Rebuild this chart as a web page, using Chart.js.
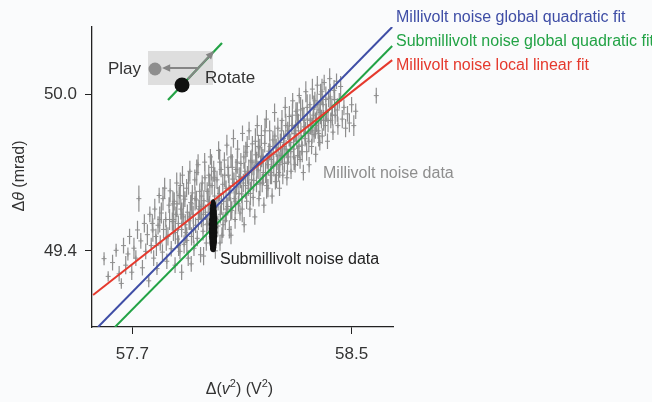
<!DOCTYPE html>
<html>
<head>
<meta charset="utf-8">
<script src="https://cdn.jsdelivr.net/npm/chart.js@4.4.0/dist/chart.umd.min.js"></script>
<style>
html, body { margin:0; padding:0; background:#fafbfc; }
#wrap { width:652px; height:402px; }
</style>
</head>
<body>
<div id="wrap"><canvas id="c" width="652" height="402"></canvas></div>
<script>
// Δθ vs Δ(v²): millivolt / submillivolt noise data with three fits.
const FONT = '"Liberation Sans", Arial, sans-serif';
Chart.defaults.font.family = FONT;
Chart.defaults.color = "#333";
const C = {blue:"#3f4ea6", green:"#23a346", red:"#e5392d", grey:"#8e8e8e", black:"#111"};

const xRange = [57.553, 58.651];
const yRange = [49.108, 50.258];
const xTicks = [57.7, 58.5];
const yTicks = [49.4, 50.0];

// fit lines (end points, data units)
const blueFitX = [57.575, 58.648],  blueFitY = [49.108, 50.258];
const greenFitX = [57.637, 58.648], greenFitY = [49.108, 50.185];
const redFitX = [57.557, 58.648],   redFitY = [49.231, 50.131];
const fitLabels = ["Millivolt noise global quadratic fit", "Submillivolt noise global quadratic fit", "Millivolt noise local linear fit"];

// millivolt noise data: [Δ(v²), Δθ, error]
const millivolt = [
  [57.597,49.370,0.025],[57.612,49.302,0.02],[57.628,49.355,0.03],[57.641,49.402,0.025],[57.652,49.312,0.03],
  [57.660,49.275,0.02],[57.668,49.420,0.03],[57.676,49.345,0.035],[57.684,49.388,0.025],[57.690,49.455,0.03],
  [57.698,49.318,0.03],[57.706,49.410,0.04],[57.713,49.372,0.03],[57.719,49.480,0.035],[57.724,49.600,0.05],
  [57.731,49.438,0.03],[57.737,49.335,0.03],[57.744,49.505,0.035],[57.749,49.398,0.03],[57.755,49.462,0.04],
  [57.760,49.285,0.025],[57.764,49.540,0.03],
  [57.769,49.420,0.03],[57.773,49.505,0.035],[57.778,49.372,0.03],[57.782,49.560,0.04],[57.786,49.455,0.03],
  [57.790,49.332,0.025],[57.794,49.498,0.035],[57.798,49.612,0.03],[57.802,49.430,0.03],[57.806,49.545,0.04],
  [57.810,49.395,0.03],[57.814,49.482,0.035],[57.818,49.640,0.04],[57.822,49.520,0.03],[57.826,49.360,0.03],
  [57.830,49.455,0.035],[57.834,49.575,0.03],[57.838,49.630,0.045],[57.842,49.408,0.03],[57.846,49.512,0.035],
  [57.850,49.468,0.03],
  [57.775,49.480,0.045],[57.788,49.420,0.04],[57.800,49.520,0.05],[57.812,49.600,0.045],[57.824,49.450,0.05],
  [57.836,49.520,0.04],[57.848,49.580,0.05],
  [57.853,49.590,0.035],[57.856,49.345,0.03],[57.859,49.540,0.03],[57.862,49.660,0.04],[57.865,49.445,0.035],
  [57.868,49.505,0.03],[57.871,49.612,0.035],[57.874,49.398,0.03],[57.877,49.560,0.04],[57.880,49.482,0.03],
  [57.880,49.318,0.03],[57.883,49.690,0.035],[57.886,49.530,0.03],[57.889,49.425,0.035],[57.892,49.598,0.03],
  [57.895,49.470,0.04],[57.898,49.640,0.035],[57.901,49.548,0.03],[57.904,49.372,0.03],[57.907,49.515,0.035],
  [57.910,49.705,0.04],[57.913,49.585,0.03],[57.915,49.350,0.03],[57.916,49.455,0.035],[57.919,49.622,0.03],
  [57.922,49.538,0.035],[57.925,49.410,0.03],[57.928,49.672,0.04],[57.931,49.498,0.03],[57.934,49.595,0.035],
  [57.937,49.448,0.03],[57.940,49.730,0.04],[57.943,49.560,0.035],[57.946,49.628,0.03],[57.949,49.385,0.03],
  [57.851,49.520,0.05],[57.857,49.470,0.045],[57.863,49.580,0.05],[57.869,49.420,0.04],[57.875,49.650,0.05],
  [57.881,49.540,0.045],[57.887,49.610,0.05],[57.893,49.500,0.04],[57.899,49.440,0.05],[57.905,49.660,0.045],
  [57.911,49.530,0.05],[57.917,49.580,0.04],[57.923,49.480,0.05],[57.929,49.600,0.045],[57.935,49.700,0.05],
  [57.941,49.520,0.04],[57.947,49.570,0.05],
  [57.952,49.525,0.035],[57.955,49.660,0.03],[57.958,49.475,0.035],[57.960,49.380,0.035],[57.961,49.592,0.04],
  [57.964,49.740,0.035],[57.967,49.548,0.03],[57.970,49.430,0.03],[57.973,49.628,0.035],[57.976,49.505,0.03],
  [57.979,49.690,0.04],[57.982,49.575,0.035],[57.985,49.760,0.03],[57.988,49.455,0.03],[57.991,49.650,0.035],
  [57.994,49.530,0.03],[57.997,49.705,0.04],[58.000,49.610,0.035],[58.003,49.400,0.03],[58.006,49.568,0.03],
  [58.009,49.672,0.035],[58.012,49.495,0.04],[58.015,49.785,0.035],[58.018,49.620,0.03],[58.020,49.430,0.03],
  [58.021,49.540,0.035],[58.024,49.712,0.03],[58.027,49.460,0.03],[58.030,49.655,0.04],[58.033,49.590,0.035],
  [58.036,49.748,0.03],[58.039,49.515,0.035],[58.042,49.640,0.03],[58.045,49.805,0.04],[58.048,49.570,0.035],
  [57.953,49.610,0.05],[57.959,49.540,0.045],[57.965,49.680,0.05],[57.971,49.500,0.04],[57.977,49.590,0.05],
  [57.983,49.650,0.045],[57.989,49.720,0.05],[58.001,49.680,0.04],[58.007,49.520,0.05],[58.013,49.600,0.045],
  [58.019,49.740,0.05],[58.025,49.580,0.04],[58.031,49.500,0.05],[58.037,49.690,0.045],[58.043,49.560,0.05],
  [58.049,49.720,0.04],
  [58.051,49.690,0.03],[58.054,49.482,0.035],[58.057,49.622,0.03],[58.060,49.760,0.04],[58.060,49.460,0.035],
  [58.063,49.555,0.035],[58.066,49.675,0.03],[58.069,49.830,0.035],[58.072,49.600,0.03],[58.075,49.520,0.035],
  [58.078,49.712,0.04],[58.081,49.645,0.03],[58.084,49.790,0.035],[58.087,49.580,0.03],[58.090,49.685,0.035],
  [58.093,49.545,0.03],[58.096,49.735,0.04],[58.099,49.618,0.035],[58.102,49.850,0.03],[58.105,49.660,0.035],
  [58.108,49.500,0.03],[58.111,49.705,0.035],[58.114,49.778,0.04],[58.117,49.590,0.03],[58.120,49.690,0.035],
  [58.123,49.640,0.03],[58.126,49.860,0.035],[58.129,49.560,0.03],[58.132,49.745,0.04],[58.135,49.672,0.035],
  [58.138,49.810,0.03],[58.141,49.605,0.035],[58.144,49.720,0.03],[58.147,49.530,0.03],
  [58.053,49.640,0.05],[58.059,49.560,0.045],[58.065,49.720,0.05],[58.071,49.660,0.04],[58.077,49.590,0.05],
  [58.083,49.740,0.045],[58.089,49.620,0.05],[58.095,49.680,0.04],[58.101,49.560,0.05],[58.107,49.760,0.045],
  [58.113,49.650,0.05],[58.119,49.800,0.04],[58.125,49.700,0.05],[58.131,49.620,0.045],[58.137,49.740,0.05],
  [58.143,49.670,0.04],[58.149,49.820,0.05],
  [58.150,49.768,0.035],[58.153,49.655,0.03],[58.156,49.880,0.04],[58.159,49.710,0.035],[58.162,49.600,0.03],
  [58.165,49.795,0.035],[58.168,49.735,0.03],[58.171,49.842,0.04],[58.174,49.660,0.035],[58.177,49.760,0.03],
  [58.180,49.575,0.03],[58.183,49.812,0.035],[58.186,49.700,0.04],[58.189,49.905,0.035],[58.192,49.745,0.03],
  [58.195,49.640,0.035],[58.198,49.782,0.03],[58.201,49.860,0.04],[58.204,49.690,0.035],[58.207,49.750,0.03],
  [58.210,49.610,0.03],[58.213,49.825,0.035],[58.216,49.725,0.04],[58.219,49.930,0.035],[58.222,49.665,0.03],
  [58.225,49.795,0.035],[58.228,49.740,0.03],[58.231,49.870,0.04],[58.234,49.700,0.035],[58.237,49.640,0.03],
  [58.240,49.815,0.035],[58.243,49.765,0.03],[58.246,49.900,0.04],[58.249,49.690,0.035],
  [58.154,49.730,0.05],[58.160,49.800,0.045],[58.166,49.660,0.05],[58.172,49.760,0.04],[58.178,49.700,0.05],
  [58.184,49.860,0.045],[58.190,49.650,0.05],[58.196,49.730,0.04],[58.202,49.800,0.05],[58.208,49.700,0.045],
  [58.214,49.770,0.05],[58.220,49.840,0.04],[58.226,49.690,0.05],[58.232,49.790,0.045],[58.238,49.730,0.05],
  [58.244,49.860,0.04],[58.248,49.760,0.05],
  [58.252,49.830,0.03],[58.255,49.735,0.035],[58.258,49.950,0.04],[58.261,49.790,0.035],[58.264,49.680,0.03],
  [58.267,49.860,0.035],[58.270,49.760,0.03],[58.273,49.915,0.04],[58.276,49.815,0.035],[58.279,49.705,0.03],
  [58.282,49.880,0.035],[58.285,49.975,0.03],[58.288,49.790,0.04],[58.291,49.850,0.035],[58.294,49.730,0.03],
  [58.297,49.935,0.035],[58.300,49.820,0.03],[58.303,49.765,0.04],[58.306,49.890,0.035],[58.309,49.995,0.03],
  [58.312,49.750,0.035],[58.315,49.860,0.03],[58.318,49.805,0.04],[58.321,49.945,0.035],[58.324,49.700,0.03],
  [58.327,49.875,0.035],[58.330,49.830,0.03],[58.333,50.010,0.04],[58.336,49.780,0.035],[58.339,49.905,0.03],
  [58.342,49.850,0.035],[58.345,49.730,0.03],[58.348,49.960,0.04],
  [58.254,49.800,0.05],[58.260,49.880,0.045],[58.266,49.740,0.05],[58.272,49.840,0.04],[58.278,49.780,0.05],
  [58.284,49.920,0.045],[58.290,49.760,0.05],[58.296,49.860,0.04],[58.302,49.920,0.05],[58.308,49.800,0.045],
  [58.314,49.940,0.05],[58.320,49.780,0.04],[58.326,49.900,0.05],[58.332,49.850,0.045],[58.338,49.950,0.05],
  [58.344,49.820,0.04],[58.349,49.900,0.05],
  [58.351,49.880,0.035],[58.354,49.800,0.03],[58.357,50.020,0.04],[58.360,49.920,0.035],[58.363,49.845,0.03],
  [58.366,49.975,0.035],[58.369,49.770,0.03],[58.372,49.895,0.04],[58.375,50.035,0.035],[58.378,49.860,0.03],
  [58.381,49.940,0.035],[58.384,49.815,0.03],[58.387,50.000,0.04],[58.390,49.905,0.035],[58.393,49.840,0.03],
  [58.396,49.960,0.035],[58.400,50.045,0.03],[58.404,49.880,0.04],[58.408,49.930,0.035],[58.412,49.820,0.03],
  [58.416,49.985,0.035],[58.420,50.060,0.04],[58.424,49.900,0.03],[58.428,49.950,0.035],[58.432,49.855,0.03],
  [58.436,50.015,0.04],[58.440,49.920,0.035],[58.445,50.050,0.03],[58.450,49.880,0.035],[58.455,49.975,0.03],
  [58.460,50.030,0.04],[58.466,49.905,0.035],
  [58.356,49.860,0.05],[58.362,49.950,0.045],[58.368,49.880,0.05],[58.374,49.960,0.04],[58.380,49.850,0.05],
  [58.386,49.930,0.045],[58.392,50.010,0.05],[58.398,49.900,0.04],[58.406,49.980,0.05],[58.414,49.900,0.045],
  [58.422,49.990,0.05],[58.430,49.920,0.04],[58.438,49.980,0.05],[58.448,49.940,0.045],
  [58.472,49.950,0.03],[58.478,49.870,0.035],[58.485,49.925,0.03],[58.492,49.890,0.035],[58.500,49.960,0.03],
  [58.508,49.880,0.04],[58.515,49.935,0.03],[58.590,49.995,0.03]
];

// submillivolt noise data: [Δ(v²), Δθ, error]
const submillivolt = [
  [57.995,49.405,0.006],[57.994,49.410,0.006],[57.996,49.415,0.006],[57.994,49.420,0.006],[57.996,49.425,0.006],
  [57.993,49.430,0.006],[57.997,49.435,0.006],[57.994,49.440,0.006],[57.996,49.445,0.006],[57.993,49.450,0.006],
  [57.997,49.455,0.006],[57.995,49.460,0.006],[57.993,49.465,0.006],[57.997,49.470,0.006],[57.994,49.475,0.006],
  [57.996,49.480,0.006],[57.993,49.485,0.006],[57.997,49.490,0.006],[57.995,49.495,0.006],[57.993,49.500,0.006],
  [57.997,49.505,0.006],[57.994,49.510,0.006],[57.996,49.515,0.006],[57.993,49.520,0.006],[57.997,49.525,0.006],
  [57.995,49.530,0.006],[57.994,49.535,0.006],[57.996,49.540,0.006],[57.994,49.545,0.006],[57.996,49.550,0.006],
  [57.995,49.555,0.006],[57.994,49.560,0.006],[57.996,49.565,0.006],[57.995,49.570,0.006],[57.994,49.575,0.006],
  [57.996,49.580,0.006],[57.995,49.585,0.006],[57.995,49.590,0.006]
];

const toPts = arr => arr.map(p => ({x: p[0], y: p[1]}));
const toLine = (xs, ys) => xs.map((x, i) => ({x, y: ys[i]}));

// vertical error bars drawn under each marker set
const errorBars = {
  id: "errorBars",
  beforeDatasetDraw(chart, args) {
    const ds = chart.data.datasets[args.index];
    if (!ds.errs) return;
    const {ctx, scales: {x, y}} = chart;
    ctx.save();
    ctx.strokeStyle = ds.borderColor; ctx.lineWidth = ds.errWidth || 1;
    ctx.beginPath();
    ds.data.forEach((p, i) => {
      const px = x.getPixelForValue(p.x);
      ctx.moveTo(px, y.getPixelForValue(p.y - ds.errs[i]));
      ctx.lineTo(px, y.getPixelForValue(p.y + ds.errs[i]));
    });
    ctx.stroke(); ctx.restore();
  }
};

function arrow(ctx, x0, y0, x1, y1, col) {
  const a = Math.atan2(y1 - y0, x1 - x0), h = 9;
  ctx.strokeStyle = ctx.fillStyle = col; ctx.lineWidth = 2;
  ctx.beginPath(); ctx.moveTo(x0, y0); ctx.lineTo(x1 - h * 0.7 * Math.cos(a), y1 - h * 0.7 * Math.sin(a)); ctx.stroke();
  ctx.beginPath(); ctx.moveTo(x1, y1);
  ctx.lineTo(x1 - h * Math.cos(a - 0.42), y1 - h * Math.sin(a - 0.42));
  ctx.lineTo(x1 - h * Math.cos(a + 0.42), y1 - h * Math.sin(a + 0.42));
  ctx.closePath(); ctx.fill();
}

// mixed-style text runs: [text, style, sizeScale, dy]
function runs(ctx, parts, x, y, size, align) {
  const f = (p) => (p[1] || "") + " " + Math.round(size * (p[2] || 1)) + "px " + FONT;
  let w = 0;
  parts.forEach(p => { ctx.font = f(p); w += ctx.measureText(p[0]).width; });
  let cx = align === "center" ? x - w / 2 : x;
  parts.forEach(p => { ctx.font = f(p); ctx.fillText(p[0], cx, y + (p[3] || 0)); cx += ctx.measureText(p[0]).width; });
}

const annotations = {
  id: "annotations",
  afterDraw(chart) {
    const ctx = chart.ctx, a = chart.chartArea;
    ctx.save();
    ctx.textBaseline = "alphabetic"; ctx.textAlign = "left";
    // fit labels at right
    const cols = [C.blue, C.green, C.red];
    fitLabels.forEach((t, i) => {
      ctx.fillStyle = cols[i]; ctx.font = "16px " + FONT;
      ctx.fillText(t, a.right + 3, 22 + i * 24);
    });
    // data labels
    ctx.font = "16px " + FONT;
    ctx.fillStyle = "#8e8e8e"; ctx.fillText("Millivolt noise data", 323, 178);
    ctx.fillStyle = "#222"; ctx.fillText("Submillivolt noise data", 220, 264);
    // axis titles
    ctx.fillStyle = "#333";
    runs(ctx, [["Δ("], ["v", "italic"], ["2", "", 0.7, -7], [") (V"], ["2", "", 0.7, -7], [")"]], (a.left + a.right) / 2 - 3, 394, 16, "center");
    ctx.save(); ctx.translate(24, 176); ctx.rotate(-Math.PI / 2);
    runs(ctx, [["Δ"], ["θ", "italic"], [" (mrad)"]], 0, 0, 16, "center");
    ctx.restore();
    // play / rotate schematic
    ctx.fillStyle = "#dedede"; ctx.fillRect(148, 51, 65, 34);
    ctx.strokeStyle = C.green; ctx.lineWidth = 2.2;
    ctx.beginPath(); ctx.moveTo(168, 100); ctx.lineTo(222, 43); ctx.stroke();
    arrow(ctx, 197, 68, 162, 68, "#858585");
    arrow(ctx, 188, 79, 214, 51, "#858585");
    ctx.fillStyle = "#8e8e8e"; ctx.beginPath(); ctx.arc(155, 69, 6.5, 0, 2 * Math.PI); ctx.fill();
    ctx.fillStyle = C.black; ctx.beginPath(); ctx.arc(182, 85, 7.5, 0, 2 * Math.PI); ctx.fill();
    ctx.fillStyle = "#333"; ctx.font = "17px " + FONT;
    ctx.fillText("Play", 108, 74);
    ctx.fillText("Rotate", 205, 83);
    ctx.restore();
  }
};

const lineDs = (label, color, xs, ys, order) => ({label, data: toLine(xs, ys), showLine: true, borderColor: color,
  backgroundColor: color, borderWidth: 2, pointRadius: 0, order});

// submillivolt cluster drawn as a tapered column
const subRadius = c => { const t = (c.raw.y - 49.49) / 0.105; return 1.3 + 2.4 * Math.sqrt(Math.max(0, 1 - t * t)); };

new Chart(document.getElementById("c"), {
  type: "scatter",
  data: {datasets: [
    {label: "Millivolt noise data", data: toPts(millivolt), errs: millivolt.map(p => p[2]), errWidth: 1.2, pointStyle: "cross",
      pointRadius: 2.5, borderColor: C.grey, backgroundColor: C.grey, borderWidth: 1, order: 3},
    lineDs(fitLabels[2], C.red, redFitX, redFitY, 2),
    lineDs(fitLabels[1], C.green, greenFitX, greenFitY, 2),
    lineDs(fitLabels[0], C.blue, blueFitX, blueFitY, 1),
    {label: "Submillivolt noise data", data: toPts(submillivolt), errs: submillivolt.map(p => p[2]), errWidth: 1.5, pointStyle: "circle",
      pointRadius: subRadius, borderColor: C.black, backgroundColor: C.black, borderWidth: 0, order: 0}
  ]},
  options: {
    responsive: false, animation: false,
    layout: {padding: {left: 30, top: 27, right: 259, bottom: 0}},
    plugins: {legend: {display: false}, tooltip: {enabled: false}},
    scales: {
      x: {type: "linear", min: xRange[0], max: xRange[1],
        afterBuildTicks: s => { s.ticks = xTicks.map(v => ({value: v})); },
        afterFit: s => { s.height = 75; },
        ticks: {font: {size: 17}, color: "#333", padding: 10, callback: v => v.toFixed(1)},
        grid: {drawOnChartArea: false, drawTicks: true, tickLength: 7, color: "#222"},
        border: {display: true, color: "#222", width: 1.3}},
      y: {type: "linear", min: yRange[0], max: yRange[1],
        afterBuildTicks: s => { s.ticks = yTicks.map(v => ({value: v})); },
        afterFit: s => { s.width = 62; },
        ticks: {font: {size: 17}, color: "#333", padding: 8, callback: v => v.toFixed(1)},
        grid: {drawOnChartArea: false, drawTicks: true, tickLength: 7, color: "#222"},
        border: {display: true, color: "#222", width: 1.3}}
    }
  },
  plugins: [errorBars, annotations]
});
</script>
</body>
</html>
